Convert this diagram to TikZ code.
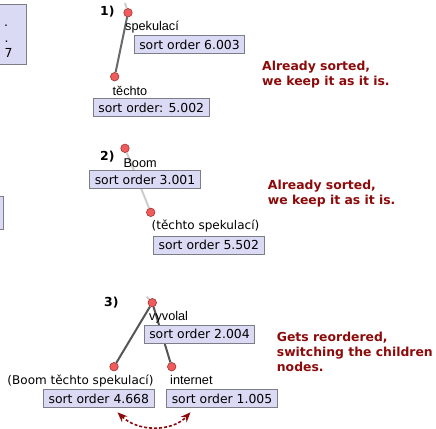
\documentclass[tikz,border=0pt]{standalone}
\usepackage{fontspec}
\setmainfont{DejaVu Sans}
\newfontfamily\labfont{Liberation Sans}
\usetikzlibrary{arrows.meta,backgrounds}
\definecolor{boxfill}{RGB}{218,218,245}
\definecolor{boxline}{RGB}{125,125,135}
\definecolor{note}{RGB}{140,10,10}
\definecolor{dotfill}{RGB}{238,92,92}
\definecolor{dotline}{RGB}{165,50,50}
\definecolor{edgedark}{RGB}{85,85,85}
\definecolor{edgemid}{RGB}{105,105,105}
\definecolor{edgelight}{RGB}{205,205,205}
\begin{document}
\begin{tikzpicture}[x=1bp,y=-1bp,
  treedot/.style={circle,fill=dotfill,draw=dotline,line width=0.6bp,minimum size=8.5bp,inner sep=0},
  sortbox/.style={draw=boxline,fill=boxfill,line width=0.9bp,inner xsep=5bp,inner ysep=0,
    minimum height=18bp,font=\fontsize{12.4bp}{15bp}\selectfont},
  word/.style={anchor=base west,inner sep=0,font=\labfont\fontsize{12.7bp}{15bp}\selectfont},
  phrase/.style={anchor=base west,inner sep=0,font=\fontsize{12bp}{15bp}\selectfont},
  steplabel/.style={anchor=base west,inner sep=0,font=\bfseries\fontsize{12.4bp}{15bp}\selectfont},
  notetext/.style={anchor=north west,inner sep=0,align=left,text=note,
    font=\bfseries\fontsize{12.4bp}{15bp}\selectfont},
  darkedge/.style={line width=2bp,draw=edgedark},
  midedge/.style={line width=2bp,draw=edgemid},
  lightedge/.style={line width=2bp,draw=edgelight},
  swaparrow/.style={draw=note,line width=1.6bp,dash pattern=on 3bp off 2bp,
    {Stealth[length=10bp,width=8bp]}-{Stealth[length=10bp,width=8bp]}}]
\useasboundingbox (0,0) rectangle (436,428);
\clip (0,0) rectangle (436,428);

% boxes of the neighbouring column, cut by the frame
\draw[draw=boxline,fill=boxfill,line width=0.9bp] (-30,4.3) rectangle (26,64);
\node[anchor=base west,inner sep=0,font=\fontsize{12.4bp}{15bp}\selectfont] (dotA) at (4,26.5) {.};
\node[anchor=base west,inner sep=0,font=\fontsize{12.4bp}{15bp}\selectfont] (dotB) at (4.5,42) {.};
\node[anchor=base west,inner sep=0,font=\fontsize{12.4bp}{15bp}\selectfont] (seven) at (4.5,57.3) {7};
\draw[draw=boxline,fill=boxfill,line width=0.9bp] (-30,196.7) rectangle (3.3,229);

% ---- step 1
\node[steplabel] (s1) at (100,15) {1)};
\node[treedot] (a1) at (128,12.7) {};
\node[treedot] (b1) at (114.7,76.7) {};
\coordinate (up1) at (125,3);
\node[word] (spek) at (125,30.7) {spekulací};
\node[sortbox] (bx1) at (189.5,44.5) {sort order 6.003};
\node[word] (tech) at (112.5,95) {těchto};
\node[sortbox] (bx2) at (151.2,107.5) {sort order: 5.002};
\node[notetext] (n1) at (262,60.5) {Already sorted,\\we keep it as it is.};

% ---- step 2
\node[steplabel] (s2) at (100,160.7) {2)};
\node[treedot] (a2) at (125,148.3) {};
\node[treedot] (b2) at (150.7,212.3) {};
\node[word] (boom) at (123.3,167.3) {Boom};
\node[sortbox] (bx3) at (145,179.5) {sort order 3.001};
\node[phrase] (tspek) at (151.5,229.5) {(těchto spekulací)};
\node[sortbox] (bx4) at (208.8,245) {sort order 5.502};
\node[notetext] (n2) at (267.7,180) {Already sorted,\\we keep it as it is.};

% ---- step 3
\node[steplabel] (s3) at (104,306.7) {3)};
\node[treedot] (a3) at (152.3,302.7) {};
\node[treedot] (b3) at (114,366.7) {};
\node[treedot] (c3) at (171.7,366.7) {};
\coordinate (up3) at (146.7,296.7);
\node[word] (vyv) at (149,320.7) {vyvolal};
\node[sortbox] (bx5) at (199.5,334.2) {sort order 2.004};
\node[phrase] (btspek) at (7.3,384.5) {(Boom těchto spekulací)};
\node[word] (inet) at (170,384.5) {internet};
\node[sortbox] (bx6) at (98.8,398.7) {sort order 4.668};
\node[sortbox] (bx7) at (222,398.8) {sort order 1.005};
\node[notetext] (n3) at (276.7,331.5) {Gets reordered,\\switching the children\\nodes.};
\coordinate (swl) at (117.5,412.3);
\coordinate (swr) at (190.5,412.3);
\draw[swaparrow] (swl) .. controls (138,432) and (172,432) .. (swr);

% tree edges, kept under the dots and boxes
\begin{scope}[on background layer]
  \draw[lightedge] (up1) -- (a1);
  \draw[midedge] (a1) -- (b1);
  \draw[lightedge] (a2) -- (b2);
  \draw[lightedge] (up3) -- (a3);
  \draw[darkedge] (a3) -- (b3);
  \draw[darkedge] (a3) -- (c3);
\end{scope}
\end{tikzpicture}
\end{document}
